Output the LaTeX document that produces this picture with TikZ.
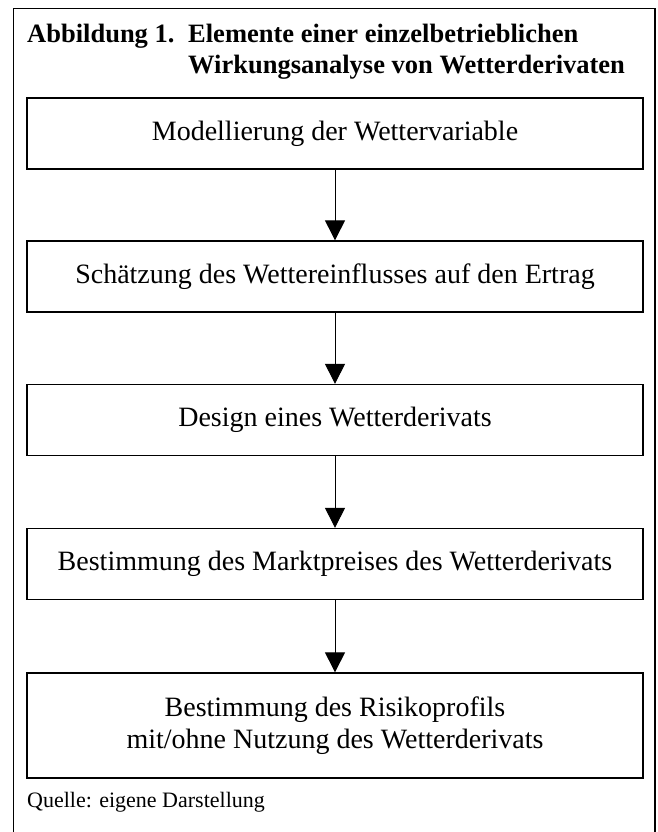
\documentclass[tikz,border=0pt]{standalone}
\usepackage{fontspec}
\setmainfont{Liberation Serif}
\usetikzlibrary{arrows.meta}
\begin{document}
\begin{tikzpicture}[x=1pt,y=-1pt,
  stepbox/.style={draw,line width=1.3pt,minimum width=616pt,minimum height=71pt,
    inner sep=0pt,font=\fontsize{28}{32}\selectfont,align=center},
  ttl/.style={anchor=base west,inner sep=0pt,font=\bfseries\fontsize{26.5}{31}\selectfont},
  flow/.style={line width=1pt,-{Triangle[length=20pt,width=20pt]}}]
\useasboundingbox (0,0) rectangle (657,832);
\draw[line width=1.5pt] (13.5,8.5) -- (655,8.5) -- (655,845) (13.5,8.5) -- (13.5,845);
\node[ttl] (lab) at (27,43) {Abbildung 1.};
\node[ttl] (tit1) at (188,43) {Elemente einer einzelbetrieblichen};
\node[ttl] (tit2) at (188,74) {Wirkungsanalyse von Wetterderivaten};
\node[stepbox] (b1) at (335,133.5) {Modellierung der Wettervariable};
\node[stepbox] (b2) at (335,276.5) {Schätzung des Wettereinflusses auf den Ertrag};
\node[stepbox] (b3) at (335,420) {Design eines Wetterderivats};
\node[stepbox] (b4) at (335,564) {Bestimmung des Marktpreises des Wetterderivats};
\node[stepbox,minimum height=105pt] (b5) at (335,725.5) {Bestimmung des Risikoprofils\\mit/ohne Nutzung des Wetterderivats};
\node[anchor=base west,inner sep=0pt,font=\fontsize{22}{26}\selectfont] (src) at (27,807) {Quelle: eigene Darstellung};
\draw[flow] (b1) -- (b2);
\draw[flow] (b2) -- (b3);
\draw[flow] (b3) -- (b4);
\draw[flow] (b4) -- (b5);
\end{tikzpicture}
\end{document}
